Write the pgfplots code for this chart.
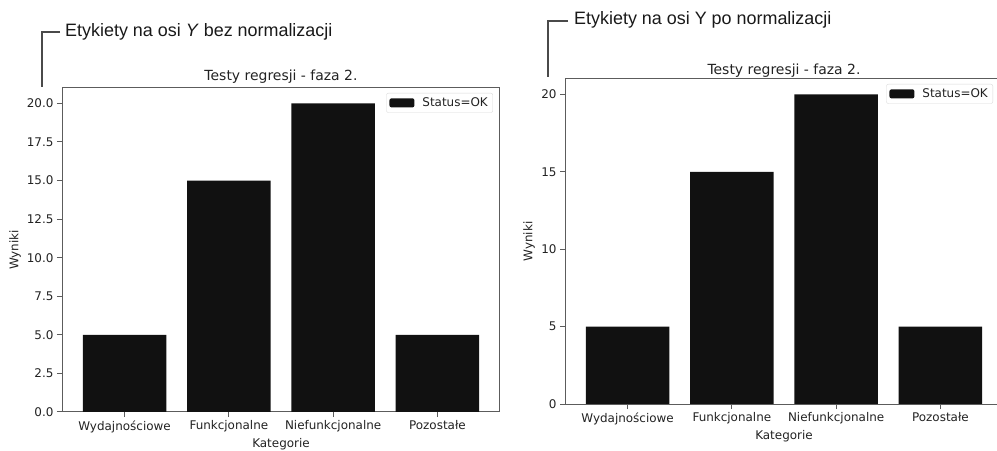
\documentclass[border=0pt]{standalone}
\usepackage{fontspec}
\setmainfont{DejaVu Sans}
\newfontfamily\annfont{Liberation Sans}
\usepackage{pgfplots}
\pgfplotsset{compat=1.18}

\definecolor{barc}{HTML}{111111}
\definecolor{axc}{HTML}{5C5C5C}
\definecolor{txt}{HTML}{222222}
\definecolor{brk}{HTML}{4A4A4A}

\pgfplotsset{
  regplot/.style={
    scale only axis,
    width=438bp,
    xmin=-0.6, xmax=3.6, ymin=0, ymax=21,
    xtick={0,1,2,3},
    xticklabels={Wydajnościowe,Funkcjonalne,Niefunkcjonalne,Pozostałe},
    tick align=outside,
    major tick length=5bp,
    axis line style={axc, line width=1bp},
    tick style={axc, line width=1bp},
    xtick pos=bottom, ytick pos=left,
    /pgf/number format/assume math mode=true,
    tick label style={font=\fontsize{12}{14}\selectfont, text=txt},
    title style={font=\fontsize{14}{16}\selectfont, text=txt, at={(0.5,1)}, anchor=base},
    title={Testy regresji - faza 2.},
    xlabel={Kategorie}, ylabel={Wyniki},
    label style={font=\fontsize{12}{14}\selectfont, text=txt},
    ybar, bar width=0.8, bar shift=0pt,
    legend style={at={(1,1)}, anchor=north east, yshift=-5bp,
      draw=black!15, rounded corners=2bp, font=\fontsize{12}{14}\selectfont,
      text=txt, inner xsep=3bp, inner ysep=2.5bp, column sep=6bp},
    legend image code/.code={\fill[barc] (0bp,-4.5bp) rectangle (25bp,4.5bp);},
  }
}

\begin{document}
\begin{tikzpicture}

% left panel: labels without normalisation
\begin{axis}[regplot,
  at={(62bp,39bp)}, anchor=south west, height=324bp,
  ytick={0,2.5,5,7.5,10,12.5,15,17.5,20},
  scaled y ticks=false,
  yticklabel style={/pgf/number format/.cd, fixed, fixed zerofill, precision=1},
  title style={yshift=2bp},
  legend style={xshift=-7bp},
  xlabel style={at={(axis description cs:0.5,-0.1)}, anchor=center},
  ylabel style={at={(axis description cs:-0.107,0.5)}, anchor=center},
]
\addplot[fill=barc, draw=none] coordinates {(0,5) (1,15) (2,20) (3,5)};
\addlegendentry{Status=OK}
\end{axis}

% right panel: labels after normalisation
\begin{axis}[regplot,
  at={(565bp,47bp)}, anchor=south west, height=325bp,
  ytick={0,5,10,15,20},
  title style={yshift=-1bp},
  legend style={xshift=-10bp},
  xlabel style={at={(axis description cs:0.5,-0.1)}, anchor=center},
  ylabel style={at={(axis description cs:-0.082,0.5)}, anchor=center},
]
\addplot[fill=barc, draw=none] coordinates {(0,5) (1,15) (2,20) (3,5)};
\addlegendentry{Status=OK}
\end{axis}

% annotations
\draw[brk, line width=1.5bp] (60bp,419bp) -- (42bp,419bp) -- (42bp,364bp);
\node[anchor=base west, inner sep=0pt, text=black!90, font=\annfont\fontsize{18}{20}\selectfont]
  at (65bp,414bp) {Etykiety na osi \textit{Y} bez normalizacji};
\draw[brk, line width=1.5bp] (568bp,430bp) -- (548bp,430bp) -- (548bp,374bp);
\node[anchor=base west, inner sep=0pt, text=black!90, font=\annfont\fontsize{18}{20}\selectfont]
  at (574bp,426bp) {Etykiety na osi Y po normalizacji};

\pgfresetboundingbox
\path[use as bounding box] (0bp,0bp) rectangle (997bp,451bp);
\end{tikzpicture}
\end{document}
